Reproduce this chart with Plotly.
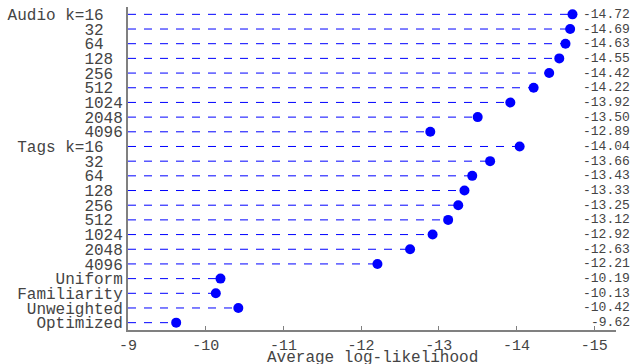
import plotly.graph_objects as go

labels = ["Audio k=16", "32", "64", "128", "256", "512", "1024", "2048", "4096",
          "Tags k=16", "32", "64", "128", "256", "512", "1024", "2048", "4096",
          "Uniform", "Familiarity", "Unweighted", "Optimized"]
values = [-14.72, -14.69, -14.63, -14.55, -14.42, -14.22, -13.92, -13.50, -12.89,
          -14.04, -13.66, -13.43, -13.33, -13.25, -13.12, -12.92, -12.63, -12.21,
          -10.19, -10.13, -10.42, -9.62]
x_ticks = [-9, -10, -11, -12, -13, -14, -15]
x_title = "Average log-likelihood"

MONO = "Liberation Mono, Courier New, monospace"
TXT = "#444444"

# pad numeric labels so that numbers line up in a left-aligned column
def pad(lbl):
    if lbl.split()[-1].startswith("k="):
        base, k = lbl.rsplit("=", 1)
        return base + "=" + k + "\u00a0" * (4 - len(k))
    if lbl.isdigit():
        return lbl + "\u00a0" * (4 - len(lbl))
    return lbl

ticktext = [pad(l) for l in labels]
ys = list(range(len(labels)))

fig = go.Figure()
for i, v in enumerate(values):
    fig.add_trace(go.Scatter(
        x=[-9, v], y=[i, i], mode="lines",
        line=dict(color="#0000ff", width=1, dash="8px,8px"),
        hoverinfo="skip", showlegend=False))

fig.add_trace(go.Scatter(
    x=values, y=ys, mode="markers",
    marker=dict(color="#0000ff", size=10, line=dict(width=0)),
    showlegend=False))

for i, v in enumerate(values):
    fig.add_annotation(x=1.033, xref="paper", y=i, yref="y",
                       text=f"{v:.2f}", showarrow=False,
                       xanchor="right", yanchor="middle",
                       font=dict(family=MONO, size=13, color=TXT))

fig.add_annotation(x=0.5, xref="paper", y=-28 / 323, yref="paper",
                   text=x_title, showarrow=False, xanchor="center", yanchor="middle",
                   font=dict(family=MONO, size=16, color=TXT))

fig.update_xaxes(range=[-9, -15.28], tickvals=x_ticks,
                 ticktext=[str(t) for t in x_ticks],
                 showgrid=False, zeroline=False, automargin=False,
                 showline=True, linecolor="#808080", linewidth=2,
                 ticks="inside", ticklen=4, tickcolor="#808080",
                 tickfont=dict(family=MONO, size=15, color=TXT))
fig.update_yaxes(range=[len(labels) - 0.5, -0.5], tickvals=ys, ticktext=ticktext,
                 showgrid=False, zeroline=False, automargin=False,
                 showline=True, linecolor="#808080", linewidth=2,
                 ticks="", ticklabelstandoff=0,
                 tickfont=dict(family=MONO, size=16, color=TXT))

fig.update_layout(width=641, height=364,
                  margin=dict(l=128, r=25, t=7, b=34),
                  plot_bgcolor="white", paper_bgcolor="white",
                  showlegend=False, hovermode=False)

fig.write_html("out.html", config={"staticPlot": True, "displayModeBar": False},
               post_script="document.body.style.margin='0';document.body.style.overflow='hidden';")
